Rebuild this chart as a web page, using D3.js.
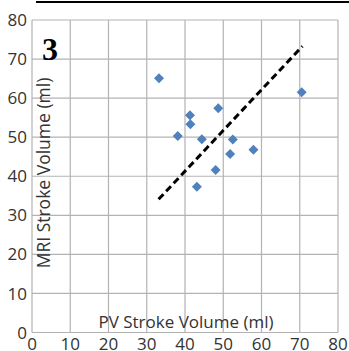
<!DOCTYPE html>
<html>
<head>
<meta charset="utf-8">
<script src="https://cdn.jsdelivr.net/npm/d3@7"></script>
<style>
  body { margin: 0; background: #fff; }
  svg { display: block; }
</style>
</head>
<body>
<div id="chart"></div>
<script>
// PV vs MRI stroke volume (ml)
const pvVolume  = [33.2, 70.5, 41.3, 48.7, 41.4, 38.1, 44.4, 52.5, 57.9, 51.8, 48.0, 43.1];
const mriVolume = [65.1, 61.5, 55.6, 57.4, 53.3, 50.3, 49.5, 49.4, 46.8, 45.7, 41.6, 37.3];
const fitLine = [[33.1, 34.1], [70.7, 73.3]];
const xTicks = [0, 10, 20, 30, 40, 50, 60, 70, 80];
const yTicks = [0, 10, 20, 30, 40, 50, 60, 70, 80];

const width = 349, height = 351;
const margin = { top: 20, right: 11, bottom: 18.5, left: 32 };

const svg = d3.select("#chart").append("svg")
  .attr("width", width)
  .attr("height", height);

const x = d3.scaleLinear().domain([0, 80]).range([margin.left, width - margin.right]);
const y = d3.scaleLinear().domain([0, 80]).range([height - margin.bottom, margin.top]);

// rule across the top
svg.append("line")
  .attr("x1", 36).attr("x2", width)
  .attr("y1", 2).attr("y2", 2)
  .attr("stroke", "#000").attr("stroke-width", 2);

// grid
svg.append("g").selectAll("line")
  .data(xTicks)
  .join("line")
  .attr("x1", d => x(d)).attr("x2", d => x(d))
  .attr("y1", y(0)).attr("y2", y(80))
  .attr("stroke", "#b3b3b3").attr("stroke-width", 1.2);

svg.append("g").selectAll("line")
  .data(yTicks)
  .join("line")
  .attr("x1", x(0)).attr("x2", x(80))
  .attr("y1", d => y(d)).attr("y2", d => y(d))
  .attr("stroke", "#b3b3b3").attr("stroke-width", 1.2);

// tick labels
svg.append("g").selectAll("text")
  .data(yTicks)
  .join("text")
  .attr("x", 27)
  .attr("y", d => y(d))
  .attr("dy", "0.36em")
  .attr("text-anchor", "end")
  .attr("font-family", "Open Sans, sans-serif")
  .attr("font-size", 17)
  .attr("fill", "#333")
  .text(d => d);

svg.append("g").selectAll("text")
  .data(xTicks)
  .join("text")
  .attr("x", d => x(d))
  .attr("y", 350)
  .attr("text-anchor", "middle")
  .attr("font-family", "Open Sans, sans-serif")
  .attr("font-size", 17)
  .attr("fill", "#333")
  .text(d => d);

// axis titles
svg.append("text")
  .attr("x", 186)
  .attr("y", 328)
  .attr("text-anchor", "middle")
  .attr("font-family", "Open Sans, sans-serif")
  .attr("font-size", 17)
  .attr("fill", "#333")
  .text("PV Stroke Volume (ml)");

svg.append("text")
  .attr("transform", "translate(49.5,173) rotate(-90)")
  .attr("text-anchor", "middle")
  .attr("font-family", "Open Sans, sans-serif")
  .attr("font-size", 17.5)
  .attr("fill", "#333")
  .text("MRI Stroke Volume (ml)");

// panel number
svg.append("text")
  .attr("x", 42)
  .attr("y", 60)
  .attr("font-family", "Liberation Serif, serif")
  .attr("font-weight", "bold")
  .attr("font-size", 32)
  .attr("fill", "#000")
  .text("3");

// dashed line
svg.append("line")
  .attr("x1", x(fitLine[0][0])).attr("y1", y(fitLine[0][1]))
  .attr("x2", x(fitLine[1][0])).attr("y2", y(fitLine[1][1]))
  .attr("stroke", "#000")
  .attr("stroke-width", 3)
  .attr("stroke-dasharray", "7,4");

// diamonds
const r = 5;
svg.append("g").selectAll("path")
  .data(pvVolume.map((d, i) => [d, mriVolume[i]]))
  .join("path")
  .attr("d", d => {
    const cx = x(d[0]), cy = y(d[1]);
    return `M${cx},${cy - r}L${cx + r},${cy}L${cx},${cy + r}L${cx - r},${cy}Z`;
  })
  .attr("fill", "#4f81bd");
</script>
</body>
</html>
